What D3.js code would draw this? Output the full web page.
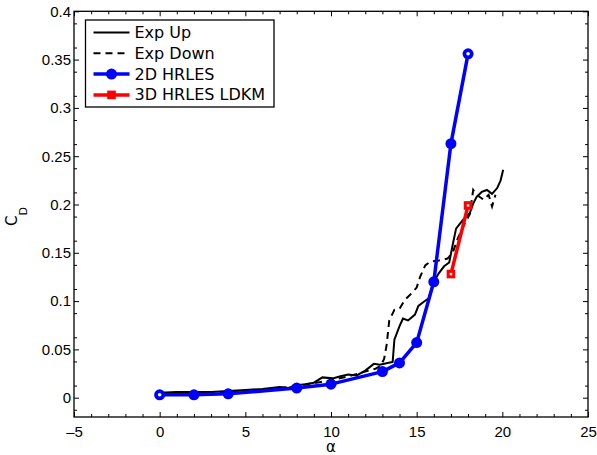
<!DOCTYPE html>
<html>
<head>
<meta charset="utf-8">
<script src="https://cdn.jsdelivr.net/npm/d3@7"></script>
<style>
  body { margin: 0; background: #fff; }
  svg { display: block; font-family: "DejaVu Sans", sans-serif; }
  .axis text { font-size: 15px; fill: #000; }
  .axis line { stroke: #000; stroke-width: 1; }
  .axis path { display: none; }
</style>
</head>
<body>
<svg id="chart" width="597" height="455"></svg>
<script>
const svg = d3.select("#chart");

const expUpAlpha = [0, 1, 2, 3, 4, 5, 6, 7, 7.5, 8, 8.5, 9, 9.5, 10.1, 10.5, 11, 11.5, 12, 12.5, 12.85, 13.3, 13.6,
  13.7, 14.0, 14.2, 14.5, 14.9, 15.1, 15.4, 15.7, 16.0, 16.3, 16.6, 16.9, 17.1, 17.3, 17.7, 18.1, 18.3, 18.5,
  18.8, 19.1, 19.4, 19.7, 19.9, 20.05];
const expUpCd = [0.005, 0.006, 0.006, 0.006, 0.007, 0.008, 0.009, 0.011, 0.010, 0.013, 0.014, 0.0155, 0.021, 0.020,
  0.022, 0.024, 0.023, 0.028, 0.035, 0.034, 0.036, 0.037, 0.060, 0.074, 0.082, 0.080, 0.086, 0.095, 0.099, 0.103,
  0.120, 0.129, 0.136, 0.140, 0.158, 0.175, 0.184, 0.191, 0.201, 0.208, 0.213, 0.215, 0.211, 0.217, 0.225, 0.236];

const expDownAlpha = [0, 2, 4, 6, 8, 9, 10, 11, 12, 12.6, 12.9, 13.1, 13.25, 13.4, 13.7, 14.0, 14.3, 14.7, 15.0,
  15.2, 15.5, 15.8, 16.3, 16.8, 17.1, 17.4, 17.8, 18.1, 18.3, 18.5, 18.9, 19.2, 19.4, 19.6];
const expDownCd = [0.004, 0.005, 0.006, 0.008, 0.012, 0.015, 0.018, 0.022, 0.027, 0.030, 0.033, 0.040, 0.055, 0.080,
  0.091, 0.092, 0.101, 0.108, 0.114, 0.125, 0.137, 0.141, 0.142, 0.144, 0.150, 0.165, 0.180, 0.190, 0.215, 0.210,
  0.205, 0.210, 0.198, 0.210];

const hrles2dAlpha = [0, 2, 4, 8, 10, 13, 14, 15, 16, 17, 18];
const hrles2dCd = [0.003, 0.003, 0.004, 0.010, 0.014, 0.027, 0.036, 0.057, 0.120, 0.263, 0.356];

const hrles3dAlpha = [17, 18];
const hrles3dCd = [0.128, 0.199];

const xTicks = [-5, 0, 5, 10, 15, 20, 25];
const yTicks = [0, 0.05, 0.1, 0.15, 0.2, 0.25, 0.3, 0.35, 0.4];
const xMinor = d3.range(-5, 26, 1);
const yMinor = d3.range(-0.0125, 0.4001, 0.025);

const legendLabels = ["Exp Up", "Exp Down", "2D HRLES", "3D HRLES LDKM"];

const margin = { top: 11.3, right: 9, bottom: 38, left: 74 };
const width = +svg.attr("width");
const height = +svg.attr("height");

const x = d3.scaleLinear().domain([-5, 25]).range([margin.left, width - margin.right]);
const y = d3.scaleLinear().domain([-0.02, 0.4]).range([height - margin.bottom, margin.top]);

const toPts = (xs, ys) => xs.map((a, i) => [a, ys[i]]);
const line = d3.line().x(d => x(d[0])).y(d => y(d[1]));

// axes, ticks pointing inward on all four sides
const bottom = svg.append("g").attr("class", "axis")
  .attr("transform", `translate(0, ${y.range()[0]})`)
  .call(d3.axisBottom(x).tickValues(xTicks).tickSize(-5).tickPadding(9));
bottom.selectAll("text").text(d => d < 0 ? "\u2013" + Math.abs(d) : d);

svg.append("g").attr("class", "axis")
  .attr("transform", `translate(0, ${y.range()[0]})`)
  .call(d3.axisBottom(x).tickValues(xMinor.filter(v => v % 5 !== 0)).tickSize(-3).tickFormat(""));

svg.append("g").attr("class", "axis")
  .attr("transform", `translate(0, ${y.range()[1]})`)
  .call(d3.axisTop(x).tickValues(xTicks).tickSize(-5).tickFormat(""));
svg.append("g").attr("class", "axis")
  .attr("transform", `translate(0, ${y.range()[1]})`)
  .call(d3.axisTop(x).tickValues(xMinor.filter(v => v % 5 !== 0)).tickSize(-3).tickFormat(""));

svg.append("g").attr("class", "axis")
  .attr("transform", `translate(${x.range()[0]}, 0)`)
  .call(d3.axisLeft(y).tickValues(yTicks).tickSize(-5).tickPadding(3).tickFormat(d3.format("~g")));
svg.append("g").attr("class", "axis")
  .attr("transform", `translate(${x.range()[0]}, 0)`)
  .call(d3.axisLeft(y).tickValues(yMinor).tickSize(-3).tickFormat(""));

svg.append("g").attr("class", "axis")
  .attr("transform", `translate(${x.range()[1]}, 0)`)
  .call(d3.axisRight(y).tickValues(yTicks).tickSize(-5).tickFormat(""));
svg.append("g").attr("class", "axis")
  .attr("transform", `translate(${x.range()[1]}, 0)`)
  .call(d3.axisRight(y).tickValues(yMinor).tickSize(-3).tickFormat(""));

svg.append("rect")
  .attr("x", x.range()[0])
  .attr("y", y.range()[1])
  .attr("width", x.range()[1] - x.range()[0])
  .attr("height", y.range()[0] - y.range()[1])
  .attr("fill", "none")
  .attr("stroke", "#000")
  .attr("stroke-width", 1.3);

// axis labels
svg.append("text")
  .attr("x", (x.range()[0] + x.range()[1]) / 2)
  .attr("y", 452)
  .attr("text-anchor", "middle")
  .style("font-size", "15px")
  .text("\u03b1");

const ylab = svg.append("text")
  .attr("transform", "translate(17, 226) rotate(-90)")
  .style("font-size", "15px");
ylab.append("tspan").text("C");
ylab.append("tspan").attr("dy", 10).style("font-size", "11px").text("D");

// series
const g = svg.append("g");

g.append("path")
  .attr("d", line(toPts(expUpAlpha, expUpCd)))
  .attr("fill", "none").attr("stroke", "#000").attr("stroke-width", 2);

g.append("path")
  .attr("d", line(toPts(expDownAlpha, expDownCd)))
  .attr("fill", "none").attr("stroke", "#000").attr("stroke-width", 2)
  .attr("stroke-dasharray", "7,5");

const blue = toPts(hrles2dAlpha, hrles2dCd);
g.append("path")
  .attr("d", line(blue))
  .attr("fill", "none").attr("stroke", "#0000ff").attr("stroke-width", 3.5)
  .attr("stroke-linejoin", "round");
g.selectAll(".dot2d").data(blue).join("circle")
  .attr("class", "dot2d")
  .attr("cx", d => x(d[0])).attr("cy", d => y(d[1]))
  .attr("r", 5.5).attr("fill", "#0000ff");
g.selectAll(".hole2d").data([blue[0], blue[blue.length - 1]]).join("circle")
  .attr("class", "hole2d")
  .attr("cx", d => x(d[0])).attr("cy", d => y(d[1]))
  .attr("r", 1.8).attr("fill", "#fff");

const red = toPts(hrles3dAlpha, hrles3dCd);
g.append("path")
  .attr("d", line(red))
  .attr("fill", "none").attr("stroke", "#ff0000").attr("stroke-width", 3.5);
g.selectAll(".sq3d").data(red).join("rect")
  .attr("class", "sq3d")
  .attr("x", d => x(d[0]) - 4.3).attr("y", d => y(d[1]) - 4.3)
  .attr("width", 8.6).attr("height", 8.6).attr("fill", "#ff0000");
g.selectAll(".hole3d").data(red).join("rect")
  .attr("class", "hole3d")
  .attr("x", d => x(d[0]) - 1.2).attr("y", d => y(d[1]) - 1.2)
  .attr("width", 2.4).attr("height", 2.4).attr("fill", "#fff");

// legend
const legend = svg.append("g").attr("transform", "translate(85.5, 20)");
legend.append("rect")
  .attr("width", 188.5).attr("height", 87)
  .attr("fill", "#fff").attr("stroke", "#000").attr("stroke-width", 1.3);

legendLabels.forEach((label, i) => {
  const row = legend.append("g").attr("transform", `translate(0, ${12.5 + i * 20.8})`);
  const ln = row.append("line")
    .attr("x1", 8).attr("x2", 44).attr("y1", 0).attr("y2", 0)
    .attr("stroke-width", i < 2 ? 2 : 3.5);
  if (i === 0) ln.attr("stroke", "#000");
  if (i === 1) ln.attr("stroke", "#000").attr("stroke-dasharray", "7,5");
  if (i === 2) {
    ln.attr("stroke", "#0000ff");
    row.append("circle").attr("cx", 26).attr("r", 5.5).attr("fill", "#0000ff");
  }
  if (i === 3) {
    ln.attr("stroke", "#ff0000");
    row.append("rect").attr("x", 21.7).attr("y", -4.3).attr("width", 8.6).attr("height", 8.6).attr("fill", "#ff0000");
  }
  row.append("text")
    .attr("x", 49).attr("y", 5.5)
    .style("font-size", "16px")
    .text(label);
});
</script>
</body>
</html>
